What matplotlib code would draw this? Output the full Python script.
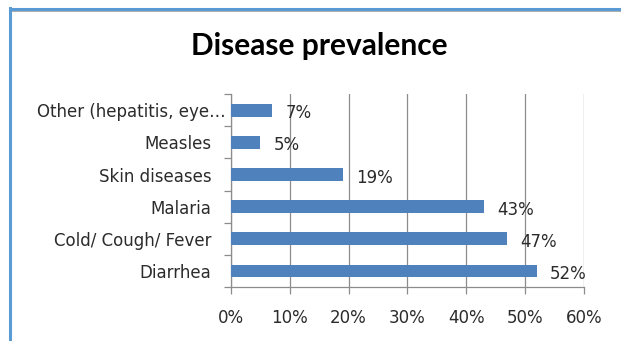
import matplotlib.pyplot as plt
from matplotlib.lines import Line2D
from matplotlib.ticker import FixedLocator, PercentFormatter
from matplotlib.transforms import ScaledTranslation

# prevalence per disease, bottom to top
diseases = ['Diarrhea', 'Cold/ Cough/ Fever', 'Malaria', 'Skin diseases', 'Measles', 'Other (hepatitis, eye…']
prevalence = [52, 47, 43, 19, 5, 7]
x_ticks = [0, 10, 20, 30, 40, 50, 60]

plt.rcParams['font.family'] = ['DejaVu Sans']
text_col = '#2b2b2b'
grid_col = '#8C8C8C'

fig = plt.figure(figsize=(6.21, 3.41), dpi=100)
ax = fig.add_axes([0.372, 0.158, 0.568, 0.566])

pos = list(range(len(diseases)))
ax.barh(pos, prevalence, height=0.4, color='#4F81BD', zorder=3)

for y, v in zip(pos, prevalence):
    ax.annotate(f'{v}%', (v, y), xytext=(9.5, -2.2), textcoords='offset points',
                ha='left', va='center', fontsize=12, color=text_col)

ax.set_xlim(0, 60)
ax.set_ylim(-0.5, len(diseases) - 0.5)
ax.set_xticks(x_ticks)
ax.xaxis.set_major_formatter(PercentFormatter(decimals=0))
ax.set_yticks(pos)
ax.set_yticklabels(diseases)
ax.yaxis.set_minor_locator(FixedLocator([p - 0.5 for p in range(len(diseases) + 1)]))

ax.grid(axis='x', color=grid_col, linewidth=0.9, zorder=0)
for side in ['top', 'right']:
    ax.spines[side].set_visible(False)
for side in ['left', 'bottom']:
    ax.spines[side].set_color(grid_col)
    ax.spines[side].set_linewidth(0.9)

ax.tick_params(axis='x', length=5, width=0.9, color=grid_col, labelsize=12,
               labelcolor=text_col, pad=11)
ax.tick_params(axis='y', which='major', length=0, labelsize=12, labelcolor=text_col, pad=14)
ax.tick_params(axis='y', which='minor', length=5, width=0.9, color=grid_col)

# the long truncated label runs closer to the axis
long_lbl = ax.get_yticklabels()[-1]
long_lbl.set_transform(long_lbl.get_transform() + ScaledTranslation(10 / 72, 0, fig.dpi_scale_trans))

fig.text(0.514, 0.839, 'Disease prevalence', ha='center', va='baseline',
         fontsize=21.5, fontweight='bold', color='black', family='Lato')

# blue frame lines along the top and left edge
fig.add_artist(Line2D([10 / 621, 1], [1 - 9 / 341, 1 - 9 / 341], color='#5B9BD5', linewidth=2.2))
fig.add_artist(Line2D([10 / 621, 1], [1 - 11 / 341, 1 - 11 / 341], color='#A0A0A0', linewidth=0.6))
fig.add_artist(Line2D([10 / 621, 10 / 621], [0, 1 - 8 / 341], color='#5B9BD5', linewidth=2.2))

fig.savefig('out.png', dpi=100)
